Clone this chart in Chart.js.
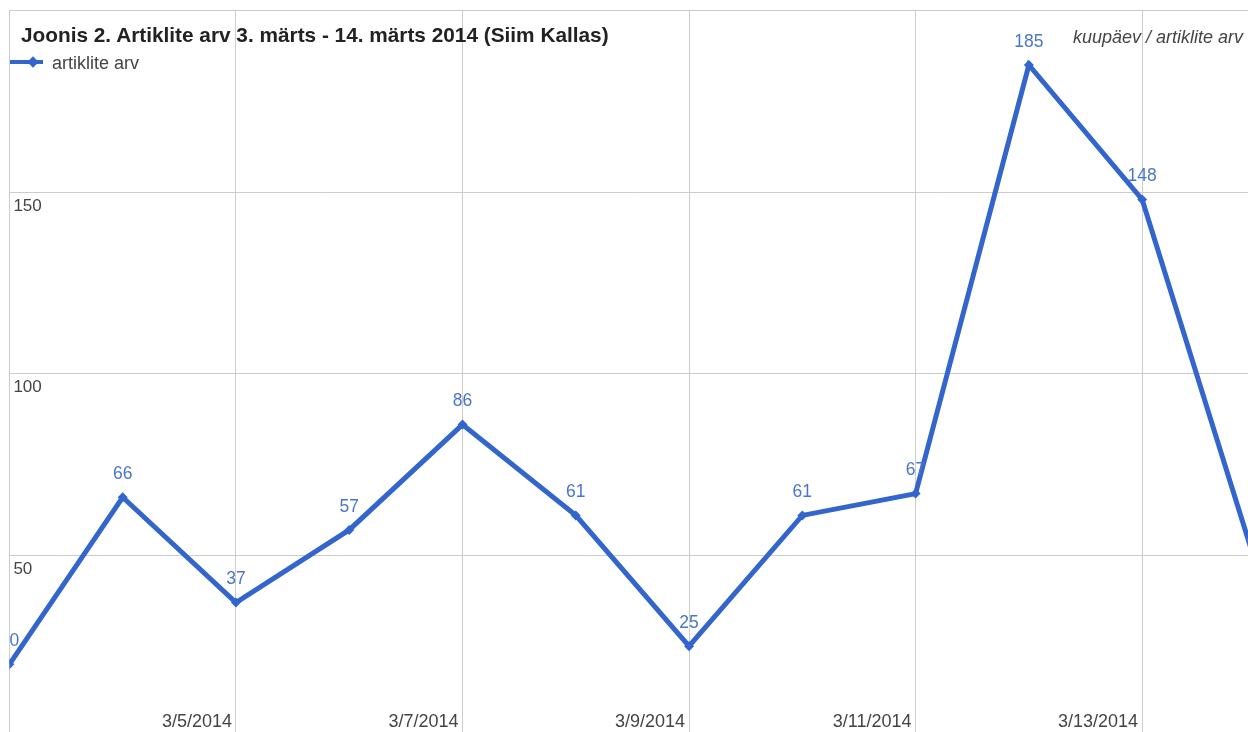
<!DOCTYPE html>
<html>
<head>
<meta charset="utf-8">
<script src="https://cdn.jsdelivr.net/npm/chart.js@4/dist/chart.umd.min.js"></script>
<style>
  html, body { margin: 0; padding: 0; background: #fff; overflow: hidden; width: 1248px; height: 732px; }
  #wrap { position: absolute; left: 0; top: 0; width: 1300px; height: 760px; }
  .title { position: absolute; left: 21px; top: 23px; font: bold 20.8px Arial, "Liberation Sans", sans-serif; color: #222; white-space: nowrap; }
  .axisnote { position: absolute; right: 5px; top: 27px; font: italic 18px Arial, "Liberation Sans", sans-serif; color: #444; white-space: nowrap; }
  .legend { position: absolute; left: 10px; top: 53px; font: 18px Arial, "Liberation Sans", sans-serif; color: #444; white-space: nowrap; }
  .legend .sw { display: inline-block; position: relative; width: 33px; height: 4px; background: #3366cc; vertical-align: middle; margin-right: 9px; top: -2px; }
  .legend .sw::after { content: ""; position: absolute; left: 19px; top: -2.5px; width: 8px; height: 8px; background: #3366cc; transform: rotate(45deg); }
</style>
</head>
<body>
<div id="wrap"><canvas id="c" width="1300" height="760"></canvas></div>
<div class="title">Joonis 2. Artiklite arv 3. märts - 14. märts 2014 (Siim Kallas)</div>
<div class="axisnote">kuupäev / artiklite arv</div>
<div class="legend"><span class="sw"></span>artiklite arv</div>
<script>
// data
const dates = ['3/3/2014', '3/4/2014', '3/5/2014', '3/6/2014', '3/7/2014', '3/8/2014',
  '3/9/2014', '3/10/2014', '3/11/2014', '3/12/2014', '3/13/2014', '3/14/2014'];
const articleCounts = [20, 66, 37, 57, 86, 61, 25, 61, 67, 185, 148, 48];
const yTicks = [50, 100, 150];

const FONT = 'Arial, "Liberation Sans", sans-serif';
const BLUE = '#3366cc';

// tick labels and value labels, drawn inside the plot like the original
const labelsPlugin = {
  id: 'insideLabels',
  afterDraw(chart) {
    const ctx = chart.ctx;
    const x = chart.scales.x, y = chart.scales.y;
    const area = chart.chartArea;
    ctx.save();
    ctx.fillStyle = '#444';
    ctx.textBaseline = 'middle';
    ctx.font = '17px ' + FONT;
    ctx.textAlign = 'left';
    yTicks.forEach(v => ctx.fillText(String(v), area.left + 4, y.getPixelForValue(v) + 14));
    ctx.font = '18px ' + FONT;
    ctx.textAlign = 'right';
    dates.forEach((d, i) => {
      if (i % 2 === 0 && i > 0) ctx.fillText(d, x.getPixelForValue(i) - 4, 722);
    });
    // value labels
    ctx.beginPath();
    ctx.rect(area.left, area.top, area.right - area.left, area.bottom - area.top);
    ctx.clip();
    ctx.font = '17.5px ' + FONT;
    ctx.fillStyle = '#4a76c9';
    ctx.textAlign = 'center';
    const meta = chart.getDatasetMeta(0);
    meta.data.forEach((pt, i) => {
      ctx.fillText(String(articleCounts[i]), pt.x, pt.y - 23);
    });
    ctx.restore();
  }
};

new Chart(document.getElementById('c').getContext('2d'), {
  type: 'line',
  data: {
    labels: dates,
    datasets: [{
      label: 'artiklite arv',
      data: articleCounts,
      borderColor: BLUE,
      backgroundColor: BLUE,
      borderWidth: 5,
      tension: 0,
      pointStyle: 'rectRot',
      pointRadius: 5,
      pointBorderWidth: 0,
      clip: 0
    }]
  },
  options: {
    responsive: false,
    animation: false,
    layout: { padding: { left: 9.4, top: 10.5, right: 44.6, bottom: 23 } },
    plugins: { legend: { display: false }, tooltip: { enabled: false } },
    scales: {
      x: {
        offset: false,
        border: { display: false },
        ticks: { display: false },
        grid: {
          drawTicks: false,
          lineWidth: 1,
          color: c => (c.index % 2 === 0 ? '#cccccc' : 'rgba(0,0,0,0)')
        }
      },
      y: {
        min: 0, max: 200,
        border: { display: false },
        ticks: { display: false, stepSize: 50 },
        grid: { drawTicks: false, color: '#cccccc', lineWidth: 1 }
      }
    }
  },
  plugins: [labelsPlugin]
});
</script>
</body>
</html>
